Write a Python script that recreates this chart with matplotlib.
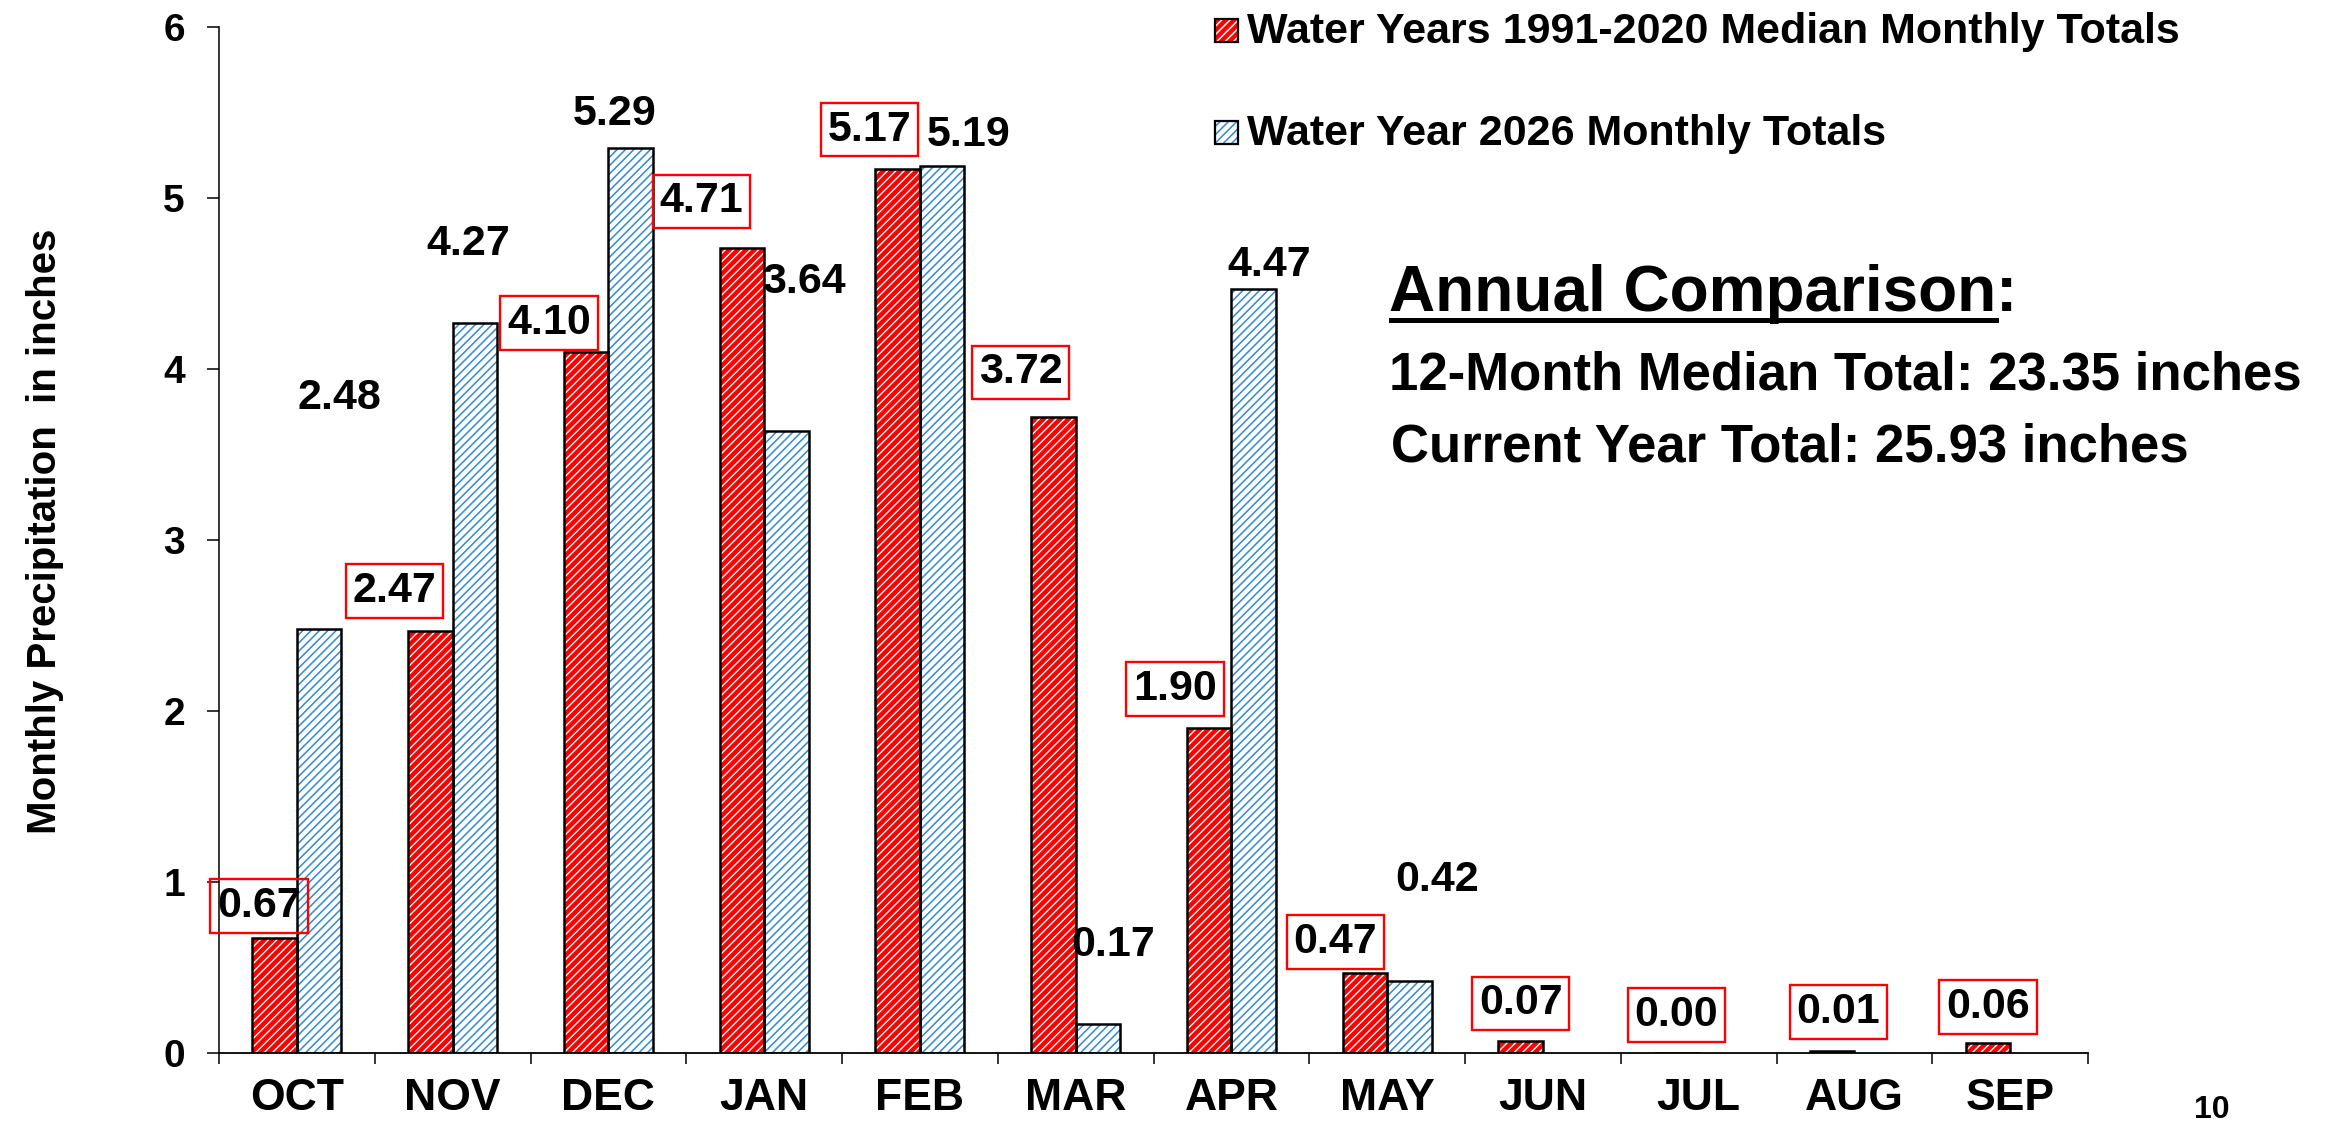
import matplotlib
matplotlib.use("Agg")
import matplotlib.pyplot as plt
from matplotlib.patches import Rectangle
from matplotlib.lines import Line2D
import numpy as np

plt.rcParams["font.family"] = ["Liberation Sans", "DejaVu Sans"]
plt.rcParams["font.weight"] = "bold"

# data
months = ["OCT", "NOV", "DEC", "JAN", "FEB", "MAR", "APR", "MAY", "JUN", "JUL", "AUG", "SEP"]
median_totals = [0.67, 2.47, 4.10, 4.71, 5.17, 3.72, 1.90, 0.47, 0.07, 0.00, 0.01, 0.06]
wy2026_totals = [2.48, 4.27, 5.29, 3.64, 5.19, 0.17, 4.47, 0.42]
median_label = "Water Years 1991-2020 Median Monthly Totals"
current_label = "Water Year 2026 Monthly Totals"
median_annual = 23.35
current_annual = 25.93

# where the value labels sit (dx in category units, dy in inches of rain above the bar)
red_dx = [-0.10, -0.23, -0.24, -0.26, -0.18, -0.21, -0.22, -0.19, 0.0, 0.0, 0.04, 0.0]
red_dy = [0.19, 0.23, 0.17, 0.27, 0.23, 0.26, 0.23, 0.18, 0.22, 0.22, 0.23, 0.21]
blue_dx = [0.13, -0.04, -0.10, 0.11, 0.17, 0.10, 0.10, 0.18]
blue_dy = [1.35, 0.46, 0.20, 0.87, 0.18, 0.46, 0.14, 0.59]

W, H = 2328, 1126
fig = plt.figure(figsize=(W / 100, H / 100), dpi=100)
ax = fig.add_axes([219 / W, 1 - 1053 / H, (2088 - 219) / W, (1053 - 27) / H])

x = np.arange(len(months))
w = 0.285
xr = x - w / 2
xb = x[:len(wy2026_totals)] + w / 2

red = "#ff0000"
blue = "#2f8ad8"
plt.rcParams["hatch.linewidth"] = 1.1


def hatch_lw(patches, lw):
    # per-patch hatch width where this matplotlib supports it
    for p in patches:
        if hasattr(p, "set_hatch_linewidth"):
            p.set_hatch_linewidth(lw)


# red: solid red with thin white stripes; blue: white with thin blue stripes
r_bars = ax.bar(xr, median_totals, w, color=red, edgecolor="white", hatch="////", linewidth=0)
hatch_lw(r_bars, 1.0)
b_bars = ax.bar(xb, wy2026_totals, w, color="white", edgecolor=blue, hatch="////", linewidth=0)
hatch_lw(b_bars, 1.1)
ax.bar(xr, median_totals, w, fill=False, edgecolor="black", linewidth=1.8)
ax.bar(xb, wy2026_totals, w, fill=False, edgecolor="black", linewidth=1.8)

# value labels
for i, v in enumerate(median_totals):
    ax.text(xr[i] + red_dx[i], v + red_dy[i], f"{v:.2f}", ha="center", va="center",
            fontsize=31, fontweight="bold",
            bbox=dict(boxstyle="square,pad=0.16", fc="none", ec=red, lw=1.7))
for i, v in enumerate(wy2026_totals):
    ax.text(xb[i] + blue_dx[i], v + blue_dy[i], f"{v:.2f}", ha="center", va="center",
            fontsize=31, fontweight="bold")

ax.set_xlim(-0.5, len(months) - 0.5)
ax.set_ylim(0, 6)
ax.set_yticks(range(7))
ax.set_xticks(x)
ax.set_xticklabels(months)
ax.set_xticks(np.arange(len(months) + 1) - 0.5, minor=True)
ax.tick_params(axis="x", which="major", length=0, labelsize=32, pad=18)
ax.tick_params(axis="x", which="minor", length=8, width=1.1, direction="out")
ax.tick_params(axis="y", length=8.5, width=1.1, direction="out", labelsize=28, pad=16)
for lab in ax.get_xticklabels() + ax.get_yticklabels():
    lab.set_fontweight("bold")
ax.spines["top"].set_visible(False)
ax.spines["right"].set_visible(False)
ax.spines["left"].set_linewidth(1.1)
ax.spines["bottom"].set_linewidth(1.3)

fig.text(45 / W, 1 - 531 / H, "Monthly Precipitation  in inches", rotation=90,
         ha="center", va="center", fontsize=29, fontweight="bold")

# legend, drawn by hand so the small hatched squares match
legend_rows = [(median_label, red, "white", 43), (current_label, "white", blue, 145)]
for text, fc, hc, base in legend_rows:
    sq = Rectangle((1215 / W, 1 - (base - 1) / H), 23 / W, 23 / H,
                   transform=fig.transFigure, facecolor=fc,
                   edgecolor=hc, hatch="////", lw=0)
    fig.add_artist(sq)
    fig.add_artist(Rectangle((1215 / W, 1 - (base - 1) / H), 23 / W, 23 / H,
                             transform=fig.transFigure, fill=False,
                             edgecolor="black", lw=1.6))
    fig.text(1247 / W, 1 - base / H, text, ha="left", va="baseline",
             fontsize=31, fontweight="bold")

# annual comparison block
t_head = fig.text(1389 / W, 1 - 311 / H, "Annual Comparison", ha="left", va="baseline",
                  fontsize=46, fontweight="bold")
fig.text(1389 / W, 1 - 390 / H, f"12-Month Median Total: {median_annual:.2f} inches",
         ha="left", va="baseline", fontsize=38, fontweight="bold")
fig.text(1391 / W, 1 - 462 / H, f"Current Year Total: {current_annual:.2f} inches",
         ha="left", va="baseline", fontsize=38, fontweight="bold")

fig.canvas.draw()
bb = t_head.get_window_extent().transformed(fig.transFigure.inverted())
fig.text(bb.x1, 1 - 311 / H, ":", ha="left", va="baseline", fontsize=46, fontweight="bold")
fig.add_artist(Line2D([bb.x0 + 0.001, bb.x1], [1 - 320 / H, 1 - 320 / H],
                      transform=fig.transFigure, color="black", lw=3.6))

fig.text(2212 / W, 1 - 1110 / H, "10", ha="center", va="center", fontsize=23, fontweight="bold")

fig.savefig("out.png", dpi=100)
